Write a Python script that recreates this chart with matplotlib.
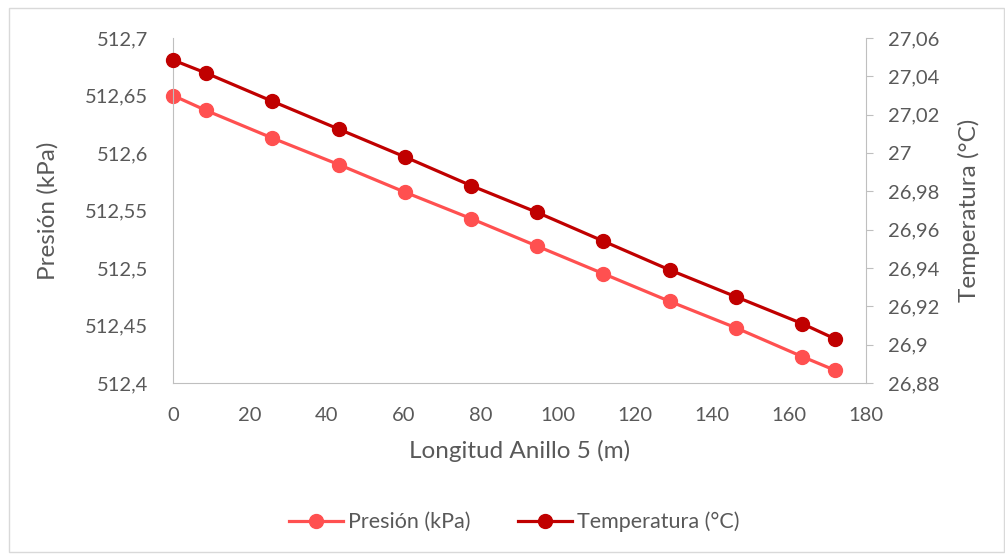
import numpy as np
import matplotlib
matplotlib.use('Agg')
import matplotlib.pyplot as plt
from matplotlib.ticker import FuncFormatter
from matplotlib.patches import Rectangle

# data
longitud = [0, 8.6, 25.8, 43.0, 60.2, 77.4, 94.6, 111.8, 129.0, 146.2, 163.4, 172.0]
presion = [512.650, 512.637, 512.613, 512.590, 512.566, 512.543, 512.519, 512.495,
           512.471, 512.448, 512.423, 512.411]
temperatura = [27.0485, 27.0417, 27.027, 27.0125, 26.998, 26.983, 26.969, 26.954,
               26.939, 26.925, 26.911, 26.903]

c_pres = '#FF5050'
c_temp = '#C00000'
txt = '#595959'
grey = '#BFBFBF'

plt.rcParams['font.family'] = ['Lato', 'DejaVu Sans']

def coma(v, pos):
    s = ('%.2f' % v).rstrip('0').rstrip('.')
    return s.replace('.', ',')

fig = plt.figure(figsize=(10.05, 5.54), dpi=100)
fig.patches.append(Rectangle((9 / 1005, 2 / 554), 995 / 1005, 544 / 554, transform=fig.transFigure,
                             fill=False, edgecolor='#D9D9D9', linewidth=1))
ax = fig.add_axes([173 / 1005, 1 - 383 / 554, (866 - 173) / 1005, (383 - 38) / 554])
ax2 = ax.twinx()

l1, = ax.plot(longitud, presion, color=c_pres, marker='o', markersize=10, linewidth=2.3,
              label='Presión (kPa)', clip_on=False)
l2, = ax2.plot(longitud, temperatura, color=c_temp, marker='o', markersize=10, linewidth=2.3,
               label='Temperatura (°C)', clip_on=False)

ax.set_xlim(0, 180)
ax.set_ylim(512.4, 512.7)
ax.set_xticks(np.arange(0, 181, 20))
ax.set_yticks(np.arange(512.4, 512.701, 0.05))
ax.yaxis.set_major_formatter(FuncFormatter(coma))
ax2.set_ylim(26.88, 27.06)
ax2.set_yticks(np.arange(26.88, 27.0601, 0.02))
ax2.yaxis.set_major_formatter(FuncFormatter(coma))

for a in (ax, ax2):
    for s in a.spines.values():
        s.set_visible(False)
ax.spines['left'].set_visible(True)
ax.spines['bottom'].set_visible(True)
ax2.spines['right'].set_visible(True)
ax.spines['left'].set_color(grey)
ax.spines['bottom'].set_color(grey)
ax2.spines['right'].set_color(grey)

ax.tick_params(axis='y', length=0, labelsize=14.5, labelcolor=txt, pad=18)
ax.tick_params(axis='x', length=0, labelsize=14.5, labelcolor=txt, pad=17)
ax2.tick_params(axis='y', length=5, color=grey, labelsize=14.5, labelcolor=txt, pad=11)

ax.set_xlabel('Longitud Anillo 5 (m)', fontsize=17.5, color=txt, labelpad=12)
ax.set_ylabel('Presión (kPa)', fontsize=17.5, color=txt, labelpad=19)
ax2.set_ylabel('Temperatura (°C)', fontsize=17.5, color=txt, labelpad=13)

fig.legend([l1, l2], ['Presión (kPa)', 'Temperatura (°C)'], loc='center',
           bbox_to_anchor=(0.512, 1 - 522 / 554), ncol=2, frameon=False, fontsize=15.5,
           labelcolor=txt, handlelength=2.5, columnspacing=2.2, handletextpad=0.25)

plt.savefig('out.png', dpi=100)
